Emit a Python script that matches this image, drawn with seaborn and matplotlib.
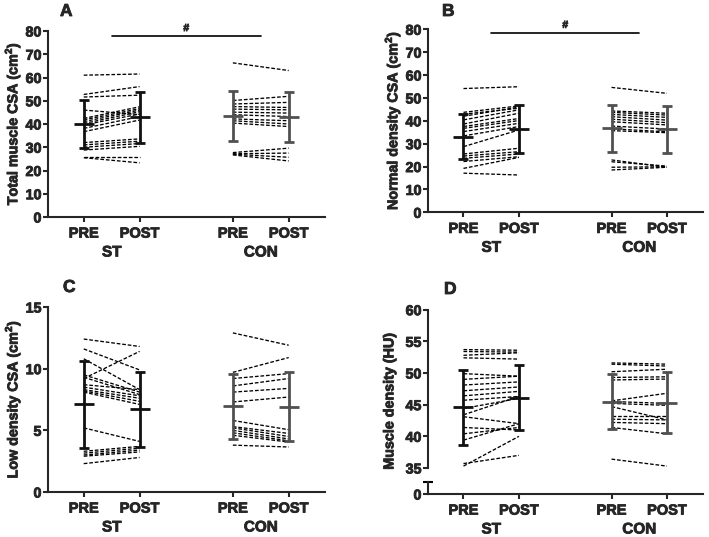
import numpy as np
import pandas as pd
import matplotlib
matplotlib.use("Agg")
import matplotlib.pyplot as plt
import matplotlib.patheffects as pe
import seaborn as sns

# ---------------- data ----------------
tick_labels = ["PRE", "POST", "PRE", "POST"]
groups = ["ST", "CON"]

# Panel A: Total muscle CSA (cm2)
A_st_pre = [61.0, 52.7, 51.6, 46.0, 42.4, 41.8, 41.0, 40.2, 39.6, 38.1, 36.7, 32.0, 31.0, 30.0, 28.8, 26.0, 25.5]
A_st_post = [61.5, 56.1, 52.4, 44.0, 47.4, 46.6, 46.0, 45.3, 44.3, 43.2, 41.7, 33.6, 32.6, 31.6, 30.4, 26.0, 23.3]
A_con_pre = [66.3, 50.1, 48.6, 47.5, 46.4, 45.1, 44.0, 42.2, 41.4, 40.4, 27.7, 27.2, 27.0, 26.7]
A_con_post = [63.0, 51.9, 49.3, 47.1, 46.1, 44.7, 43.2, 41.4, 40.0, 38.9, 29.6, 27.5, 25.7, 24.1]
A_mean = [40.0, 42.8, 43.6, 43.0]
A_sd = [10.5, 10.9, 10.8, 10.6]

# Panel B: Normal density CSA (cm2)
B_st_pre = [54.1, 43.7, 42.9, 42.0, 40.4, 38.6, 37.5, 36.7, 35.3, 33.4, 28.7, 25.5, 24.6, 23.6, 22.2, 19.2, 17.1]
B_st_post = [54.9, 46.5, 45.5, 46.0, 44.8, 43.3, 41.0, 40.1, 38.9, 37.5, 36.0, 28.0, 26.5, 25.5, 24.3, 24.0, 16.3]
B_con_pre = [54.6, 44.3, 43.7, 42.8, 41.8, 40.7, 39.6, 37.7, 36.5, 35.7, 22.9, 22.1, 19.7, 18.5]
B_con_post = [52.0, 43.3, 42.5, 41.5, 40.3, 39.2, 38.2, 36.4, 35.2, 34.8, 19.7, 20.2, 19.9, 19.7]
B_mean = [33.0, 36.3, 36.7, 36.2]
B_sd = [9.9, 10.4, 10.2, 10.1]

# Panel C: Low density CSA (cm2)
C_st_pre = [12.4, 11.6, 10.8, 9.2, 9.5, 9.3, 8.7, 8.5, 8.3, 8.2, 8.1, 5.2, 3.3, 3.15, 3.0, 2.9, 2.3]
C_st_post = [11.8, 9.9, 8.3, 11.4, 8.1, 7.9, 8.3, 7.8, 7.6, 7.35, 7.1, 4.1, 3.7, 3.55, 3.4, 3.25, 2.8]
C_con_pre = [12.9, 9.7, 9.2, 8.6, 8.1, 7.3, 5.8, 5.3, 5.2, 5.0, 4.8, 4.6, 3.8]
C_con_post = [11.9, 10.9, 9.6, 9.2, 8.4, 7.7, 5.05, 4.75, 4.5, 4.3, 4.15, 4.05, 3.65]
C_mean = [7.1, 6.7, 6.95, 6.9]
C_sd = [3.5, 3.05, 2.65, 2.8]

# Panel D: Muscle density (HU)
D_st_pre = [53.7, 53.4, 52.8, 52.4, 49.9, 49.0, 48.1, 47.2, 46.4, 45.7, 44.4, 43.4, 43.1, 41.4, 40.4, 39.4, 35.7, 35.3]
D_st_post = [53.6, 53.3, 53.2, 52.2, 49.5, 49.5, 48.6, 47.8, 47.1, 46.3, 46.0, 46.3, 42.0, 41.0, 41.4, 42.0, 37.0, 40.0]
D_con_pre = [51.6, 51.4, 50.2, 49.3, 48.9, 45.6, 45.5, 45.2, 44.7, 43.2, 42.7, 42.2, 41.4, 36.4]
D_con_post = [51.4, 51.1, 50.6, 49.4, 49.05, 46.8, 45.2, 44.9, 42.6, 43.2, 42.6, 42.0, 40.4, 35.3]
D_mean = [44.6, 46.1, 45.5, 45.3]
D_sd = [5.9, 5.1, 4.35, 4.8]

# ---------------- style ----------------
sns.set_style("ticks")
plt.rcParams["font.family"] = ["Liberation Sans", "DejaVu Sans"]
plt.rcParams["font.weight"] = "bold"
plt.rcParams["axes.labelweight"] = "bold"
plt.rcParams["mathtext.fontset"] = "custom"
plt.rcParams["mathtext.bf"] = "Liberation Sans:bold"
plt.rcParams["mathtext.rm"] = "Liberation Sans:bold"

positions = [0.0, 1.0, 2.67, 3.67]
XLIM = (-0.64, 4.32)
ST_COLOR = "#111111"
CON_COLOR = "#505050"
DASH = (0, (2.8, 1.4))

fig = plt.figure(figsize=(7.09, 5.37), dpi=100)
W, H = 709.0, 537.0


def rect(left, top, right, bottom):
    return [left / W, 1 - bottom / H, (right - left) / W, (bottom - top) / H]


def long_frame(st_pre, st_post, con_pre, con_post):
    rows = []
    for i, (a, b) in enumerate(zip(st_pre, st_post)):
        rows.append(("ST%d" % i, positions[0], a))
        rows.append(("ST%d" % i, positions[1], b))
    for i, (a, b) in enumerate(zip(con_pre, con_post)):
        rows.append(("CON%d" % i, positions[2], a))
        rows.append(("CON%d" % i, positions[3], b))
    return pd.DataFrame(rows, columns=["subject", "x", "value"])


def draw_data(ax, st_pre, st_post, con_pre, con_post, mean, sd):
    df = long_frame(st_pre, st_post, con_pre, con_post)
    sns.lineplot(data=df, x="x", y="value", units="subject", estimator=None,
                 color="black", lw=0.95, linestyle=DASH, ax=ax, legend=False,
                 sort=True)
    for k in range(4):
        col = ST_COLOR if k < 2 else CON_COLOR
        ax.errorbar([positions[k]], [mean[k]], yerr=[sd[k]], fmt="_",
                    color=col, ecolor=col, markersize=14, mew=2.0,
                    elinewidth=2.0, capsize=3.4, capthick=2.0, zorder=5)


def style_y(ax):
    sns.despine(ax=ax)
    ax.spines["left"].set_linewidth(1.5)
    ax.spines["bottom"].set_linewidth(1.5)
    ax.tick_params(axis="y", length=3.5, width=1.5, pad=1.2, labelsize=10.3)
    ax.tick_params(axis="x", length=3.6, width=1.5, pad=3.3, labelsize=10.5)
    for lab in ax.get_yticklabels():
        lab.set_fontweight("bold")
    ax.set_xlim(*XLIM)
    ax.set_xlabel("")


def style_x(ax):
    ax.set_xticks(positions)
    ax.set_xticklabels(tick_labels, fontweight="bold")
    mids = [(positions[0] + positions[1]) / 2, (positions[2] + positions[3]) / 2]
    for g, m in zip(groups, mids):
        ax.annotate(g, xy=(m, 0), xycoords=("data", "axes fraction"),
                    xytext=(0, -20.5), textcoords="offset points",
                    ha="center", va="top", fontsize=11, fontweight="bold")


def sig_bar(ax, y):
    mids = [(positions[0] + positions[1]) / 2, (positions[2] + positions[3]) / 2]
    ax.plot(mids, [y, y], color="black", lw=1.2, clip_on=False)
    ax.annotate("#", xy=(np.mean(mids), y), xytext=(0, 2.2),
                textcoords="offset points", ha="center", va="bottom",
                fontsize=7.5, fontweight="bold")


# Panel A
axA = fig.add_axes(rect(48, 31, 325, 217))
draw_data(axA, A_st_pre, A_st_post, A_con_pre, A_con_post, A_mean, A_sd)
axA.set_ylim(0, 80)
axA.set_yticks(np.arange(0, 81, 10))
style_y(axA)
style_x(axA)
axA.set_ylabel(r"Total muscle CSA (cm$^{\mathbf{2}}$)", fontsize=10.3, labelpad=1.5)
sig_bar(axA, 77.8)

# Panel B
axB = fig.add_axes(rect(428, 29.3, 703, 212.3))
draw_data(axB, B_st_pre, B_st_post, B_con_pre, B_con_post, B_mean, B_sd)
axB.set_ylim(0, 80)
axB.set_yticks(np.arange(0, 81, 10))
style_y(axB)
style_x(axB)
axB.set_ylabel(r"Normal density CSA (cm$^{\mathbf{2}}$)", fontsize=10.3, labelpad=1.5)
sig_bar(axB, 78.4)

# Panel C
axC = fig.add_axes(rect(48, 307, 325, 492))
draw_data(axC, C_st_pre, C_st_post, C_con_pre, C_con_post, C_mean, C_sd)
axC.set_ylim(0, 15)
axC.set_yticks([0, 5, 10, 15])
style_y(axC)
style_x(axC)
axC.set_ylabel(r"Low density CSA (cm$^{\mathbf{2}}$)", fontsize=10.3, labelpad=1.5)

# Panel D (broken y axis)
axD = fig.add_axes(rect(428, 309.7, 703, 468))
draw_data(axD, D_st_pre, D_st_post, D_con_pre, D_con_post, D_mean, D_sd)
axD.set_ylim(35, 60)
axD.set_yticks(np.arange(35, 61, 5))
style_y(axD)
axD.spines["bottom"].set_visible(False)
axD.set_xticks([])
axD.set_ylabel("Muscle density (HU)", fontsize=10.3, labelpad=1.5)
axD.yaxis.set_label_coords(-0.115, 0.42)

axD2 = fig.add_axes(rect(428, 482, 703, 494))
axD2.set_ylim(0, 1)
axD2.set_yticks([0])
style_y(axD2)
style_x(axD2)
axD2.plot([-0.017, 0.017], [1, 1], transform=axD2.transAxes, color="black",
          lw=1.5, clip_on=False, solid_capstyle="butt")

# Panel letters
for letter, (px, py) in zip("ABCD", [(60, 4), (442, 4), (63, 280), (444, 282)]):
    fig.text(px / W, 1 - py / H, letter, fontsize=12.5, fontweight="bold",
             ha="left", va="top")

# heavier text, like the reference's black-weight labels
for t in fig.findobj(matplotlib.text.Text):
    if t.get_text():
        t.set_path_effects([pe.withStroke(linewidth=0.6, foreground=t.get_color())])

fig.savefig("out.png", dpi=100)
